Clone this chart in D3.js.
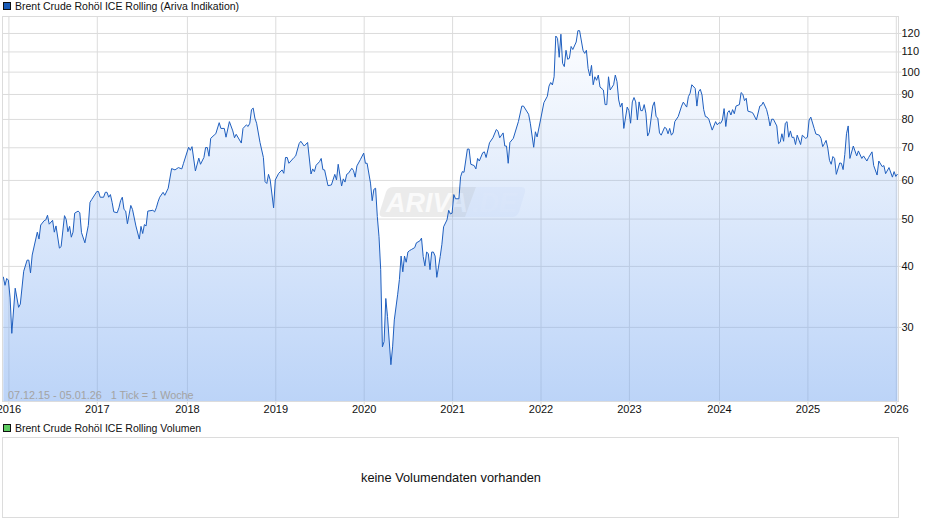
<!DOCTYPE HTML>
<html>
<head>
<title>Brent Crude</title>
<meta charset="UTF8">
<script src="https://d3js.org/d3.v7.min.js"></script>
<style>
	body { margin: 0; background: white; }
	svg { display: block; }
	text { font-family: "Liberation Sans", Arial, sans-serif; fill: #111; }
	.axis path { display: none; }
	.axis text { font-size: 11px; }
	.grid path { display: none; }
	.grid line { stroke: #dcdcdc; stroke-width: 1px; }
</style>
</head>
<body>
<svg id="chart" width="940" height="526"></svg>
<script>
// weeks counted from the first tick, 07.12.15
const firstTick = "2015-12-07";
const lastTick = "2026-01-05";

const weeks = [
	0,1,2,3,4,5,7,9,10,12,14,15,16,17,20,21,22,24,25,26,27,29,30,31,33,34,36,37,38,39,40,41,42,44,45,46,48,50,51,
	52,55,56,57,59,60,61,62,63,64,65,67,68,69,70,71,72,73,75,76,78,80,81,82,83,84,85,88,89,90,91,92,94,95,97,99,101,103,
	105,106,109,110,111,113,115,116,118,119,120,121,122,124,125,127,128,130,131,133,135,136,137,140,141,143,144,145,146,147,148,149,151,153,154,155,156,157,159,
	160,162,164,165,166,167,168,171,172,174,175,177,179,181,182,183,184,186,187,188,189,191,193,195,196,197,199,200,201,202,203,205,206,207,208,210,
	212,213,214,216,217,218,219,220,221,222,223,224,225,226,228,229,230,232,233,234,235,236,237,238,239,240,242,243,245,246,247,248,249,250,251,252,253,254,255,257,258,259,261,262,263,
	264,265,266,268,269,270,271,273,274,275,277,278,279,280,282,283,284,286,288,290,291,292,294,295,296,297,298,300,303,305,306,309,310,312,313,314,
	316,318,320,321,322,323,324,325,326,327,328,329,330,331,332,333,334,335,337,338,339,341,342,343,344,345,346,347,348,349,350,351,353,354,355,356,357,359,360,361,362,363,364,365,367,
	368,369,370,371,372,373,374,375,376,377,378,379,380,382,383,384,385,386,387,389,390,391,392,393,394,395,397,399,400,402,403,404,405,407,408,409,410,411,412,413,414,415,417,419,420,
	421,422,423,424,425,426,427,428,429,430,431,433,434,435,436,437,438,440,441,443,445,446,447,449,450,451,452,453,455,456,457,458,459,460,461,462,463,464,465,466,467,469,470,472,
	473,474,475,477,478,480,481,482,483,484,485,486,487,488,489,490,492,493,494,495,496,497,498,500,502,503,505,506,508,509,511,512,514,515,517,518,519,521,523,524,525,526
];

const brent = [
	38,36.5,37.7,37.4,34.4,29.1,36,32.9,33.4,39,41.1,41.1,38.7,42.1,46.9,45.4,48.5,49.5,49.7,50.8,48.7,49.6,46.9,48.3,43.5,43.8,50.7,49.8,47,48.2,45.8,46.9,51.3,51.8,51.4,46.8,44.6,48.4,54,
	54.7,56.8,56.8,55.3,55.3,56.6,56.6,55.3,56,54,51.6,51.4,52.6,54.4,55.3,52.2,51.8,48.8,53.2,52.2,48.3,45.4,48.2,46.6,48.6,48.3,51.8,52,51.6,52.6,54.1,55.3,56.6,55.8,57.7,63.3,62.9,63.6,
	63.2,64.9,70,69,70.2,62.6,66.5,64.6,66.7,69.9,69.9,67.1,73,74.1,74.6,78.6,76.5,76.5,73.4,79,75.6,73.2,74.4,71.4,76.5,77.8,77.2,78.4,83.6,84.2,80.3,78.4,71.6,66.7,59.5,59,61.6,60,52.6,
	60,61.9,62.9,61.9,66.7,66.7,64.9,66.7,67.2,71.2,72,70.4,71.6,61.7,63.2,62.4,64.3,65.4,66.4,63,62.9,58.4,58.6,61.6,60,64.6,58.3,60.3,59.4,61.6,61.9,63.4,62.7,60.8,64.1,66,
	68.1,64.9,64.9,59.1,54.4,57.4,57.7,50.5,45.9,39.3,27.3,28,34.3,31.5,25.1,27.3,31,35,37.5,41.9,38.9,41.9,40.7,42.7,43,43.2,43.6,44.6,45,45.6,41.8,40,42.7,42.4,39.3,42.7,42.7,41.9,37.9,41.8,44.3,48.1,49.7,52,51.1,
	51.3,56,54.9,54.9,60.9,62.4,62.2,69.4,69.4,64.6,64.2,63.2,66.4,65.6,68.2,68.5,66.7,71.5,73.2,76.1,75.5,73.2,74.9,70.4,70.4,64.9,71.6,73,79,85,85,81.8,78.4,70,75.3,73.5,
	79.6,86.4,89,93.4,95,93.9,97.6,118.3,117,107,119.3,104,102.4,110.6,106,106.5,112.6,111,115,121.3,121.3,110.6,109,110.6,101.5,98,103,94,97.6,96,98.4,93,91.7,85.6,85.6,97.6,91.7,94,98.4,95.4,87.5,84.6,86.2,76.5,84.6,
	83.2,78.4,86.7,88.5,86.7,79.6,86.7,83.2,83.2,85.6,82.2,73.8,75.1,85,86.7,80.9,80.3,74.9,74.1,76.9,76.5,74.6,76.5,74.1,74.9,79,80.9,85,86.6,84.6,88.9,90.3,94,92.4,85,91,92,89.6,83.6,80.9,80.7,79.9,75.9,79,77.8,
	78.6,78.4,79.6,84,77.2,82.4,83.2,81.5,83.6,82,85,85.6,90.6,89.9,87.2,88.2,83,82.6,82.2,79.6,85,85.3,86.6,83.6,80.9,77.4,79.9,79.9,77.4,71.2,71.7,74.6,72,78.4,79,73.4,75.6,73.3,73.4,70.9,74.1,70.9,74.1,73,
	73.4,79.6,80.7,76.5,74.5,74.1,73,70.2,71.2,72.3,69.7,65.8,64.6,67,66.4,61.6,65,64.9,63,67.7,74.6,77.4,66.4,70.4,67.2,68.8,66.4,67.2,65.6,66.7,68.5,64.2,61.4,65.6,63.9,64.2,61.8,63.6,60.8,62.4,61,61.7
];

const yearLabels = [2016,2017,2018,2019,2020,2021,2022,2023,2024,2025,2026];
const priceTicks = [30,40,50,60,70,80,90,100,110,120];

const chartTitle = "Brent Crude Rohöl ICE Rolling (Ariva Indikation)";
const volumeTitle = "Brent Crude Rohöl ICE Rolling Volumen";
const rangeNote = "07.12.15 - 05.01.26   1 Tick = 1 Woche";
const noVolume = "keine Volumendaten vorhanden";

const plotLeft = 2.5, plotRight = 898.5, plotTop = 16.5, plotBottom = 401.5;

const svg = d3.select("#chart");

const start = new Date(firstTick + "T00:00:00Z");
const dateOf = w => d3.utcDay.offset(start, w * 7);

const xScale = d3.scaleUtc()
	.domain([start, new Date(lastTick + "T00:00:00Z")])
	.range([3.3, 897.5]);

const yScale = d3.scaleLog()
	.domain([21.1, 129.7])
	.range([plotBottom, plotTop]);

// year ticks sit on the monday of the week holding 1 January
const yearTicks = yearLabels.map(y => d3.utcMonday.floor(new Date(Date.UTC(y, 0, 1))));

const data = weeks.map((w, i) => ({date: dateOf(w), value: brent[i]}));

const defs = svg.append("defs");
const grad = defs.append("linearGradient")
	.attr("id", "areaFill")
	.attr("gradientUnits", "userSpaceOnUse")
	.attr("x1", 0).attr("x2", 0)
	.attr("y1", plotTop).attr("y2", plotBottom);
grad.append("stop").attr("offset", "0").attr("stop-color", "#73a5f0").attr("stop-opacity", 0);
grad.append("stop").attr("offset", "1").attr("stop-color", "#73a5f0").attr("stop-opacity", 0.48);

// grid
svg.append("g")
	.attr("class", "grid")
	.attr("transform", "translate(0," + plotBottom + ")")
	.call(d3.axisBottom(xScale).tickValues(yearTicks).tickSize(plotTop - plotBottom).tickFormat(""));

svg.append("g")
	.attr("class", "grid")
	.attr("transform", "translate(" + plotRight + ",0)")
	.call(d3.axisLeft(yScale).tickValues(priceTicks).tickSize(plotRight - plotLeft).tickFormat(""));

// watermark
const mark = svg.append("g");
mark.append("path")
	.attr("d", "M390,187 H476 L465,217 H384 Q378,217 380,211 L386,192 Q388,187 393,187 Z")
	.attr("fill", "#000").attr("fill-opacity", 0.08);
mark.append("path")
	.attr("d", "M476,187 H521 Q526,187 525,192 L519,212 Q517,217 512,217 H465 Z")
	.attr("fill", "#5f8fd8").attr("fill-opacity", 0.06);
mark.append("text")
	.attr("x", 386).attr("y", 212)
	.style("font-size", "27px").style("font-style", "italic").style("font-weight", "bold")
	.style("fill", "#fff").style("fill-opacity", 0.75)
	.text("ARIVA");
mark.append("text")
	.attr("x", 472).attr("y", 212)
	.style("font-size", "27px").style("font-style", "italic").style("font-weight", "bold")
	.style("fill", "#fff").style("fill-opacity", 0.3)
	.text(".DE");

// area and line
const area = d3.area()
	.x(d => xScale(d.date))
	.y0(plotBottom)
	.y1(d => yScale(d.value));

const line = d3.line()
	.x(d => xScale(d.date))
	.y(d => yScale(d.value));

svg.append("path")
	.datum(data)
	.attr("d", area)
	.attr("fill", "url(#areaFill)");

svg.append("path")
	.datum(data)
	.attr("d", line)
	.attr("fill", "none")
	.attr("stroke", "#1f5fbf")
	.attr("stroke-width", 1);

// frame
svg.append("rect")
	.attr("x", plotLeft).attr("y", plotTop)
	.attr("width", plotRight - plotLeft).attr("height", plotBottom - plotTop)
	.attr("fill", "none").attr("stroke", "#dcdcdc");

svg.append("text")
	.attr("x", 8).attr("y", 399)
	.style("font-size", "10.8px").style("fill", "#a3a3a3")
	.style("white-space", "pre").attr("xml:space", "preserve")
	.text(rangeNote);

// axes
const xAxis = svg.append("g")
	.attr("class", "axis")
	.attr("transform", "translate(0," + plotBottom + ")")
	.call(d3.axisBottom(xScale).tickValues(yearTicks).tickSize(3).tickPadding(1)
		.tickFormat(d => d3.utcFormat("%Y")(d3.utcDay.offset(d, 7))));
xAxis.selectAll("line").attr("stroke", "#dcdcdc");

const yAxis = svg.append("g")
	.attr("class", "axis")
	.attr("transform", "translate(" + plotRight + ",0)")
	.call(d3.axisRight(yScale).tickValues(priceTicks).tickSize(3).tickPadding(0)
		.tickFormat(d3.format("d")));
yAxis.selectAll("line").attr("stroke", "#dcdcdc");

// legend titles
svg.append("rect")
	.attr("x", 3.5).attr("y", 2.5).attr("width", 7).attr("height", 7)
	.attr("fill", "#1a5cb8").attr("stroke", "#111");
svg.append("text")
	.attr("x", 15).attr("y", 9.5)
	.style("font-size", "10.5px")
	.text(chartTitle);

svg.append("rect")
	.attr("x", 3.5).attr("y", 424.5).attr("width", 7).attr("height", 7)
	.attr("fill", "#5ecb62").attr("stroke", "#111");
svg.append("text")
	.attr("x", 15).attr("y", 432)
	.style("font-size", "10.5px")
	.text(volumeTitle);

// empty volume panel
svg.append("rect")
	.attr("x", 2.5).attr("y", 437.5)
	.attr("width", 896).attr("height", 80)
	.attr("fill", "white").attr("stroke", "#dcdcdc");
svg.append("text")
	.attr("x", 451).attr("y", 482)
	.attr("text-anchor", "middle")
	.style("font-size", "12.8px")
	.text(noVolume);
</script>
</body>
</html>
